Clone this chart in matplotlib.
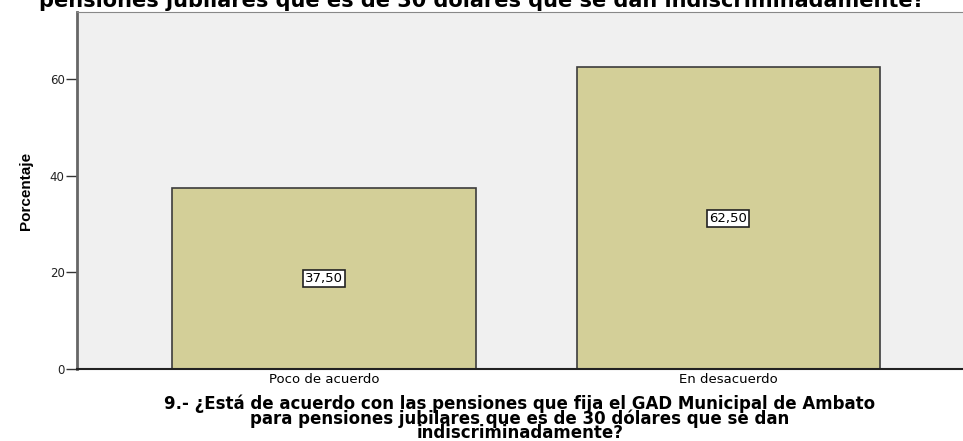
import matplotlib
matplotlib.use("Agg")
import matplotlib.pyplot as plt

categorias = ["Poco de acuerdo", "En desacuerdo"]
porcentajes = [37.5, 62.5]
etiquetas = ["37,50", "62,50"]

titulo = "pensiones jubilares que es de 30 dólares que se dan indiscriminadamente?"
xlabel = ("9.- ¿Está de acuerdo con las pensiones que fija el GAD Municipal de Ambato\n"
          "para pensiones jubilares que es de 30 dólares que se dan\n"
          "indiscriminadamente?")

plt.rcParams['font.family'] = ['DejaVu Sans']

fig = plt.figure(figsize=(9.63, 4.41), dpi=100)
ax = fig.add_axes([0.08, 0.1633, 0.92, 0.8095])
ax.set_facecolor("#f0f0f0")

pos = range(len(categorias))
ax.bar(pos, porcentajes, width=0.75, color="#d3cf98", edgecolor="#3c3c3c", linewidth=1.2)

for x, v, t in zip(pos, porcentajes, etiquetas):
    ax.text(x, v / 2, t, ha="center", va="center", fontsize=9.5,
            bbox=dict(boxstyle="square,pad=0.15", facecolor="white", edgecolor="#222222", linewidth=1.2))

ax.set_xlim(-0.61, 1.58)
ax.set_ylim(0, 73.9)
ax.set_yticks([0, 20, 40, 60])
ax.set_xticks(list(pos))
ax.set_xticklabels(categorias, fontsize=9.5)
ax.tick_params(axis="y", length=8, width=1, color="#333333", labelsize=8.5, labelcolor="#222222", pad=1)
ax.tick_params(axis="x", length=0, pad=3)

ax.spines["right"].set_visible(False)
ax.spines["top"].set_color("#888888")
ax.spines["left"].set_color("#666666")
ax.spines["left"].set_linewidth(2)
ax.spines["bottom"].set_color("#222222")
ax.spines["bottom"].set_linewidth(1.5)

ax.set_ylabel("Porcentaje", fontsize=11, fontweight="bold",
              family=['Liberation Sans Narrow', 'Liberation Sans'], labelpad=12)
ax.set_xlabel(xlabel, fontsize=12, fontweight="bold", linespacing=0.75, labelpad=6)

fig.text(0.5, 1.0, titulo, ha="center", va="center", fontsize=15, fontweight="bold")

fig.savefig("out.png", dpi=100, facecolor="white")
